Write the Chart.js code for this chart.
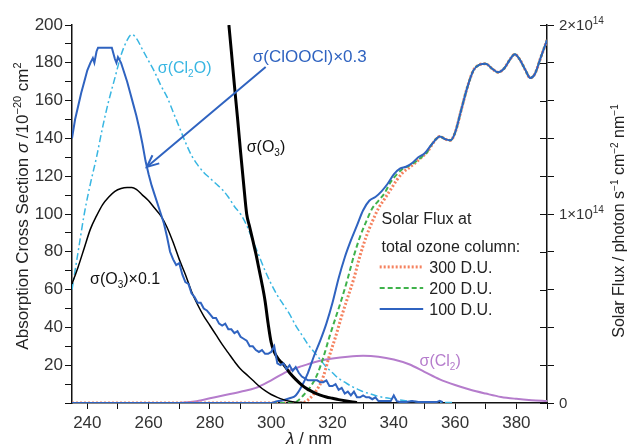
<!DOCTYPE html>
<html>
<head>
<meta charset="utf-8">
<script src="https://cdn.jsdelivr.net/npm/chart.js@4.4.1/dist/chart.umd.min.js"></script>
<style>
  html, body { margin: 0; padding: 0; background: #fff; }
  #wrap { width: 627px; height: 444px; }
</style>
</head>
<body>
<div id="wrap"><canvas id="chart"></canvas></div>
<script>
// wavelength (nm) / cross sections (1e-20 cm2)
const clooclX = [235,236,237,238,239,240,241,241.8,242.3,243,243.5,244,245,246,247,248,249,249.5,250,251,252,253,254,255,256,257,258,259,260,261,262,263,264,265,266,267,268,269,270,271,272,273,274,275,276,277,278,279,280,281,282,283,284,285,286,287,288,289,290,291,292,293,294,295,296,297,298,299,300,301,302,303,304,305,306,307,308,309,310,311,312,313,314,315,316,317,318,319,320,321,322,323,324,325,326,327,328,329,330,331,332,333,334,335,336,337,338,339,340,341,342,344,346,348,350,352,354,355,356];
const clooclY = [140,150,157,164,170,176,180,182.5,180,186,188,188,188,188,188,188,182,180,183,180,175,170,164,158,152,145,137,128,121,115,110,105,100,95,88,80,76,73,74,68,64,63,58,56,53,53,50,49,47,45,45,42,41,42,39,39,37,38,35,34,33,30,30,28,27,28,26,26,27,30,21,20,21,18,20,17,19,16,14,13,12,12,12,12,11,11,12,9,9,10,7,8,5,6,4,6,3,3,4,3,3,2,3,1,1,1,1,1,4,1,0.5,0.5,1,0.5,0.5,0.5,0.5,1.2,0.5];

const cl2oX = [235,237,239,241,243,245,247,249,251,253,254.5,256,258,260,262,264,266,268,270,272,274,276,278,280,282,284,286,288,290,292,294,296,298,300,302,304,306,308,310,312,314,316,318,320,322,324,326,328,330,332,335,338,341,345,350,355,360];
const cl2oY = [60,80,100,116,130,146,160,172,184,192,195,193,187,181,175,168,162,154,146,138,131,126,122,119,116,113,109,104,100,94,86,78,70,63,57,52,47,41,36,31,27,23,19,16,13,11,9,7.5,6,5,3.5,2.6,1.8,1,0.5,0.3,0.2];

const o3SmallX = [235,237,239,241,243,245,247,249,251,253,254.5,256,258,260,262,264,266,268,270,272,274,276,278,280,282,284,286,288,290,292,294,296,298,300,302,304,306,308,310,312];
const o3SmallY = [63,72,82,92,99,105,109,112,113.5,114,114,113,110,107,103,99,93,85,76,68,59,52,46,41,36,31,26.5,22,18,15,12,9,6.5,4.5,3,1.8,0.9,0.4,0.2,0];

const o3X = [286.2,287,288,289,290,291,292,293,294,295,296,297,298,299,300,301,302,303,304,306,308,310,312,314,316,318,320,322,324,326,328];
const o3Y = [200,186,168,151,133,116,100,93,86,79,71,63,54,42,32,27,24,22,20.5,16,12.5,9.5,7.2,5.5,4.2,3.2,2.5,1.8,1.2,0.7,0.3];

const cl2X = [270,275,280,285,290,295,300,305,310,315,320,325,330,335,340,345,350,355,360,365,370,375,380,385,390];
const cl2Y = [0,0.8,2.5,4.2,6,8,12,16.5,19.5,22,23.5,24.5,25,24.5,23,20.5,16.5,12.5,9.5,7,5,3.2,2.2,1.5,1];

// solar flux (1e14 photon s-1 cm-2 nm-1)
const flux100X = [235,300,302,304,306,308,310,312,314,316,318,320,322,324,326,328,330,332,334,336,338,340,342,344,346,348,350,352,354,355,357,358.5,360,362,364,366,368,370,372,374,376,378,379.5,381,383,384.5,386,388,390];
const flux100Y = [0,0,0.01,0.015,0.025,0.04,0.09,0.16,0.25,0.33,0.42,0.53,0.66,0.77,0.86,0.94,1.02,1.07,1.09,1.12,1.16,1.21,1.24,1.25,1.27,1.30,1.32,1.36,1.40,1.41,1.395,1.39,1.43,1.55,1.67,1.76,1.79,1.795,1.77,1.75,1.77,1.82,1.845,1.82,1.76,1.72,1.74,1.83,1.92];
const flux200X = [235,307,309,311,313,315,317,319,321,323,325,327,329,331,333,335,337,339,341,343,345,347,349,351,352,354,355,357,358.5,360,362,364,366,368,370,372,374,376,378,379.5,381,383,384.5,386,388,390];
const flux200Y = [0,0,0.016,0.05,0.09,0.15,0.24,0.35,0.45,0.55,0.66,0.78,0.88,0.96,1.03,1.07,1.11,1.17,1.21,1.24,1.255,1.275,1.30,1.33,1.36,1.40,1.41,1.395,1.39,1.43,1.55,1.67,1.76,1.79,1.795,1.77,1.75,1.77,1.82,1.845,1.82,1.76,1.72,1.74,1.83,1.92];
const flux300X = [235,310,312,314,316,317,319,321,323,325,327,329,331,333,335,337,339,341,343,345,347,349,351,352,354,355,357,358.5,360,362,364,366,368,370,372,374,376,378,379.5,381,383,384.5,386,388,390];
const flux300Y = [0,0,0.016,0.05,0.1,0.14,0.25,0.35,0.46,0.56,0.66,0.78,0.88,0.96,1.03,1.08,1.13,1.18,1.22,1.245,1.27,1.30,1.33,1.355,1.40,1.41,1.395,1.39,1.43,1.55,1.67,1.76,1.79,1.795,1.77,1.75,1.77,1.82,1.845,1.82,1.76,1.72,1.74,1.83,1.92];

const xTicks = [240,250,260,270,280,290,300,310,320,330,340,350,360,370,380,390];
const legendNames = ['300 D.U.', '200 D.U.', '100 D.U.'];

const BLUE = '#2f63c0', CYAN = '#38b6e2', PURPLE = '#b57ccc', GREEN = '#3fb24b', ORANGE = '#f5825f';
const FAM = "'Liberation Sans', Arial, sans-serif";

function pts(xs, ys) { return xs.map((v, i) => ({ x: v, y: ys[i] })); }

function drawRich(ctx, parts, x, y, size, color, align) {
  const fontOf = p => (p[1] === 'i' ? 'italic ' : '') + ((p[1] === 'sup' || p[1] === 'sub') ? Math.round(size * 0.65) : size) + 'px ' + FAM;
  let w = 0;
  parts.forEach(p => { ctx.font = fontOf(p); w += ctx.measureText(p[0]).width; });
  let cx = align === 'center' ? x - w / 2 : x;
  ctx.fillStyle = color;
  ctx.textAlign = 'left';
  ctx.textBaseline = 'alphabetic';
  parts.forEach(p => {
    ctx.font = fontOf(p);
    const dy = p[1] === 'sup' ? -size * 0.4 : (p[1] === 'sub' ? size * 0.25 : 0);
    ctx.fillText(p[0], cx, y + dy);
    cx += ctx.measureText(p[0]).width;
  });
}

const annotations = {
  id: 'annotations',
  afterDraw(chart) {
    const { ctx, chartArea: ca, scales: { x, y, y1 } } = chart;
    const px = v => x.getPixelForValue(v), py = v => y.getPixelForValue(v);
    ctx.save();

    // inward part of right axis ticks + labels
    ctx.strokeStyle = '#111';
    ctx.lineWidth = 1;
    y1.ticks.forEach(t => {
      const yy = Math.round(y1.getPixelForValue(t.value)) + 0.5;
      ctx.beginPath(); ctx.moveTo(ca.right - 7, yy); ctx.lineTo(ca.right, yy); ctx.stroke();
    });
    drawRich(ctx, [['0', '']], ca.right + 12, y1.getPixelForValue(0) + 5, 15, '#333', 'left');
    drawRich(ctx, [['1×10', ''], ['14', 'sup']], ca.right + 12, y1.getPixelForValue(1) + 5, 15, '#333', 'left');
    drawRich(ctx, [['2×10', ''], ['14', 'sup']], ca.right + 12, y1.getPixelForValue(2) + 5, 15, '#333', 'left');

    // axis titles
    ctx.save();
    ctx.translate(28, 206);
    ctx.rotate(-Math.PI / 2);
    drawRich(ctx, [['Absorption Cross Section ', ''], ['σ', 'i'], [' /10', ''], ['−20', 'sup'], [' cm', ''], ['2', 'sup']], 0, 0, 17, '#222', 'center');
    ctx.restore();
    ctx.save();
    ctx.translate(624, 221);
    ctx.rotate(-Math.PI / 2);
    drawRich(ctx, [['Solar Flux / photon s', ''], ['−1', 'sup'], [' cm', ''], ['−2', 'sup'], [' nm', ''], ['−1', 'sup']], 0, 0, 16, '#222', 'center');
    ctx.restore();
    drawRich(ctx, [['λ', 'i'], [' / nm', '']], 309, 444, 17, '#222', 'center');

    // curve labels
    drawRich(ctx, [['σ(ClOOCl)×0.3', '']], px(294), py(180.5), 17, BLUE, 'left');
    drawRich(ctx, [['σ(Cl', ''], ['2', 'sub'], ['O)', '']], px(263), py(174.5), 16, CYAN, 'left');
    drawRich(ctx, [['σ(O', ''], ['3', 'sub'], [')', '']], px(292), py(133), 16, '#111', 'left');
    drawRich(ctx, [['σ(O', ''], ['3', 'sub'], [')×0.1', '']], px(240.9), py(63), 16, '#111', 'left');
    drawRich(ctx, [['σ(Cl', ''], ['2', 'sub'], [')', '']], px(348.4), py(19.6), 16, PURPLE, 'left');

    // arrow to ClOOCl curve
    const x0 = px(298.2), y0 = py(177.8), x1 = px(259.4), y1p = py(124.9);
    ctx.strokeStyle = BLUE;
    ctx.lineWidth = 2;
    ctx.beginPath(); ctx.moveTo(x0, y0); ctx.lineTo(x1, y1p); ctx.stroke();
    const a = Math.atan2(y1p - y0, x1 - x0);
    ctx.beginPath();
    ctx.moveTo(x1 - 13 * Math.cos(a - 0.42), y1p - 13 * Math.sin(a - 0.42));
    ctx.lineTo(x1, y1p);
    ctx.lineTo(x1 - 13 * Math.cos(a + 0.42), y1p - 13 * Math.sin(a + 0.42));
    ctx.stroke();

    // solar flux legend
    drawRich(ctx, [['Solar Flux at', '']], px(336), py(94.7), 16, '#222', 'left');
    drawRich(ctx, [['total ozone column:', '']], px(336), py(80), 16, '#222', 'left');
    const styles = [[ORANGE, 3, [2, 2]], [GREEN, 2, [5, 3]], [BLUE, 2, []]];
    const rows = [72, 60.8, 49.7];
    legendNames.forEach((name, i) => {
      ctx.strokeStyle = styles[i][0];
      ctx.lineWidth = styles[i][1];
      ctx.setLineDash(styles[i][2]);
      ctx.beginPath(); ctx.moveTo(px(335.4), py(rows[i])); ctx.lineTo(px(349.6), py(rows[i])); ctx.stroke();
      ctx.setLineDash([]);
      drawRich(ctx, [[name, '']], px(351.6), py(rows[i]) + 6, 16, '#222', 'left');
    });
    ctx.restore();
  }
};

new Chart(document.getElementById('chart'), {
  type: 'line',
  data: {
    datasets: [
      { data: pts(clooclX, clooclY), borderColor: BLUE, borderWidth: 2, tension: 0 },
      { data: pts(o3X, o3Y), borderColor: '#000', borderWidth: 3, tension: 0.3, cubicInterpolationMode: 'monotone' },
      { data: pts(o3SmallX, o3SmallY), borderColor: '#000', borderWidth: 1.5, cubicInterpolationMode: 'monotone' },
      { data: pts(flux100X, flux100Y), yAxisID: 'y1', borderColor: BLUE, borderWidth: 2, cubicInterpolationMode: 'monotone' },
      { data: pts(flux200X, flux200Y), yAxisID: 'y1', borderColor: GREEN, borderWidth: 2, borderDash: [5, 3], cubicInterpolationMode: 'monotone' },
      { data: pts(flux300X, flux300Y), yAxisID: 'y1', borderColor: ORANGE, borderWidth: 3, borderDash: [2, 2], cubicInterpolationMode: 'monotone' },
      { data: pts(cl2oX, cl2oY), borderColor: CYAN, borderWidth: 1.5, borderDash: [7, 3, 2, 3], cubicInterpolationMode: 'monotone' },
      { data: pts(cl2X, cl2Y), borderColor: PURPLE, borderWidth: 2, cubicInterpolationMode: 'monotone' }
    ]
  },
  options: {
    responsive: true,
    maintainAspectRatio: false,
    animation: false,
    elements: { point: { radius: 0 } },
    layout: { padding: { top: 25, left: 0, right: 0, bottom: 0 } },
    plugins: { legend: { display: false }, tooltip: { enabled: false } },
    scales: {
      x: {
        type: 'linear',
        min: 235,
        max: 390,
        afterBuildTicks: s => { s.ticks = xTicks.map(v => ({ value: v })); },
        afterFit: s => { s.height = 41; },
        grid: { drawOnChartArea: false, tickLength: 6, tickColor: '#111' },
        border: { color: '#111', width: 1.5 },
        ticks: {
          padding: 4,
          color: '#333',
          font: { family: FAM, size: 17 },
          maxRotation: 0,
          callback: v => (v % 20 === 0 && v < 390 ? String(v) : '')
        }
      },
      y: {
        min: 0,
        max: 200,
        afterFit: s => { s.width = 72; },
        grid: { drawOnChartArea: false, tickLength: 7, tickColor: '#111' },
        border: { color: '#111', width: 1.5 },
        ticks: {
          stepSize: 10,
          padding: 2,
          color: '#333',
          font: { family: FAM, size: 17 },
          autoSkip: false,
          callback: v => (v > 0 && v % 20 === 0 ? String(v) : '')
        }
      },
      y1: {
        position: 'right',
        min: 0,
        max: 2,
        afterFit: s => { s.width = 80; },
        grid: { drawOnChartArea: false, tickLength: 7, tickColor: '#111' },
        border: { color: '#111', width: 1.5 },
        ticks: { stepSize: 0.2, autoSkip: false, callback: () => '' }
      }
    }
  },
  plugins: [annotations]
});
</script>
</body>
</html>
